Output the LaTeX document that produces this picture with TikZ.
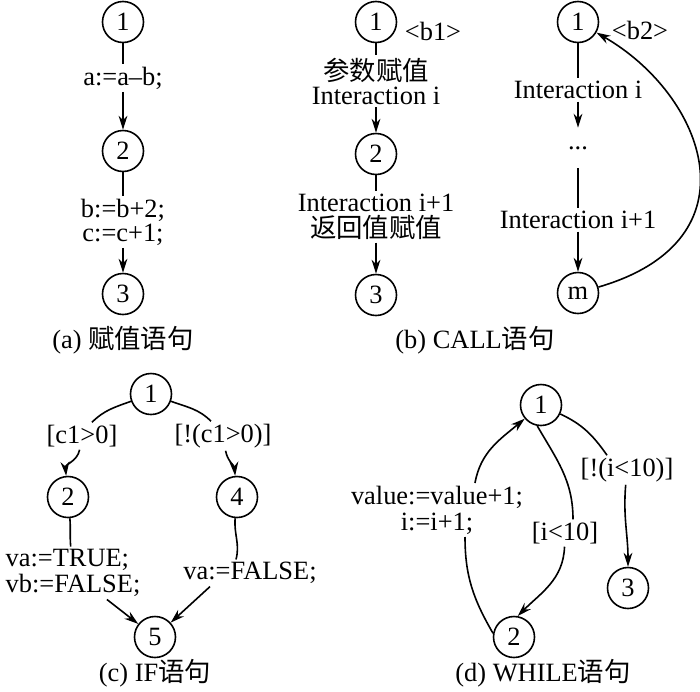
\documentclass[tikz,border=0pt]{standalone}
\usepackage{fontspec}
\setmainfont{Liberation Serif}
\newfontfamily\cjk{Noto Sans CJK SC}
\newcommand{\zh}[1]{{\cjk #1}}
\usetikzlibrary{arrows.meta}
\tikzset{
  state/.style={circle, draw, minimum size=20.5pt, inner sep=0pt},
  lbl/.style={inner sep=1pt, align=center},
  subcap/.style={inner sep=1pt},
}
\begin{document}
\begin{tikzpicture}[x=0.5pt, y=0.5pt, line width=0.8pt, font=\fontsize{13.2}{13}\selectfont,
  >={Stealth[length=7pt, width=4.4pt]}]
  \useasboundingbox (0,0) rectangle (700,-691);
  \node[state] (a1) at (123,-22) {1};
  \node[lbl] (a12) at (123,-78) {a:=a--b;};
  \node[state] (a2) at (123,-151) {2};
  \node[lbl] (a23) at (123,-222) {b:=b+2;\\[-1pt]c:=c+1;};
  \node[state] (a3) at (123,-294) {3};
  \node[subcap] (acap) at (123,-340) {(a) \zh{赋值语句}};
  \draw (a1) -- (a12);
  \draw[->] (a12) -- (a2);
  \draw (a2) -- (a23);
  \draw[->] (a23) -- (a3);
  \node[state] (b1) at (376,-22) {1};
  \node[lbl] (b1tag) at (433,-31) {<b1>};
  \node[lbl] (b12) at (376,-81) {\zh{参数赋值}\\[-1pt]Interaction i};
  \node[state] (b2) at (376,-154) {2};
  \node[lbl] (b23) at (376,-217) {Interaction i+1\\\zh{返回值赋值}};
  \node[state] (b3) at (376,-295) {3};
  \node[subcap] (bcap) at (475,-340) {(b) CALL\zh{语句}};
  \draw (b1) -- (b12);
  \draw[->] (b12) -- (b2);
  \draw (b2) -- (b23);
  \draw[->] (b23) -- (b3);
  \node[state] (m1) at (578,-22) {1};
  \node[lbl] (m1tag) at (640,-30) {<b2>};
  \node[lbl] (mi) at (578,-90) {Interaction i};
  \node[inner xsep=1pt, inner ysep=9pt] (mdots) at (578,-148) {...};
  \node[lbl] (mj) at (578,-220) {Interaction i+1};
  \node[state] (mm) at (578,-293) {m};
  \draw (m1) -- (mi);
  \draw[->] (mi) -- (mdots);
  \draw (mdots) -- (mj);
  \draw[->] (mj) -- (mm);
  \draw[->] (mm) .. controls (760,-240) and (705,-95) .. (m1);
  \node[state] (c1) at (151,-394) {1};
  \node[lbl] (c12) at (82,-436) {[c1>0]};
  \node[state] (c2) at (68,-497) {2};
  \node[lbl] (c14) at (223,-436) {[!(c1>0)]};
  \node[state] (c4) at (237,-497) {4};
  \node[lbl, align=left] (c25) at (73,-573) {va:=TRUE;\\vb:=FALSE;};
  \node[lbl] (c45) at (250,-573) {va:=FALSE;};
  \node[state] (c5) at (155,-637) {5};
  \node[subcap] (ccap) at (155,-673) {(c) IF\zh{语句}};
  \draw (c1) to[out=200, in=45] ([xshift=5pt]c12.north);
  \draw[->] (c12) to[out=-100, in=95] (c2);
  \draw (c1) to[out=-20, in=135] ([xshift=-6pt]c14.north);
  \draw[->] (c14) to[out=-80, in=95] (c4);
  \draw (c2) to[out=-85, in=95] (c25);
  \draw[->] (c25) -- (c5);
  \draw (c4) to[out=-95, in=75] ([xshift=-7pt]c45.north);
  \draw[->] ([xshift=-20pt]c45.south) -- (c5);
  \node[state] (d1) at (541,-405) {1};
  \node[state] (d2) at (514,-637) {2};
  \node[state] (d3) at (628,-588) {3};
  \node[lbl] (d13) at (627,-470) {[!(i<10)]};
  \node[lbl] (d12) at (565,-533) {[i<10]};
  \node[lbl] (d21) at (437,-510) {value:=value+1;\\i:=i+1;};
  \node[subcap] (dcap) at (543,-673) {(d) WHILE\zh{语句}};
  \draw (d1) to[out=-25, in=125] ([xshift=-10pt]d13.north);
  \draw[->] (d13) to[out=-95, in=90] (d3);
  \draw (d1.-100) to[out=-60, in=90] ([xshift=4pt]d12.north);
  \draw[->] (d12) to[out=-92, in=45] (d2.80);
  \draw (d2.170) to[out=120, in=-90] ([xshift=14pt]d21.south);
  \draw[->] ([xshift=19pt]d21.north) to[out=80, in=-140] (d1);
\end{tikzpicture}
\end{document}
